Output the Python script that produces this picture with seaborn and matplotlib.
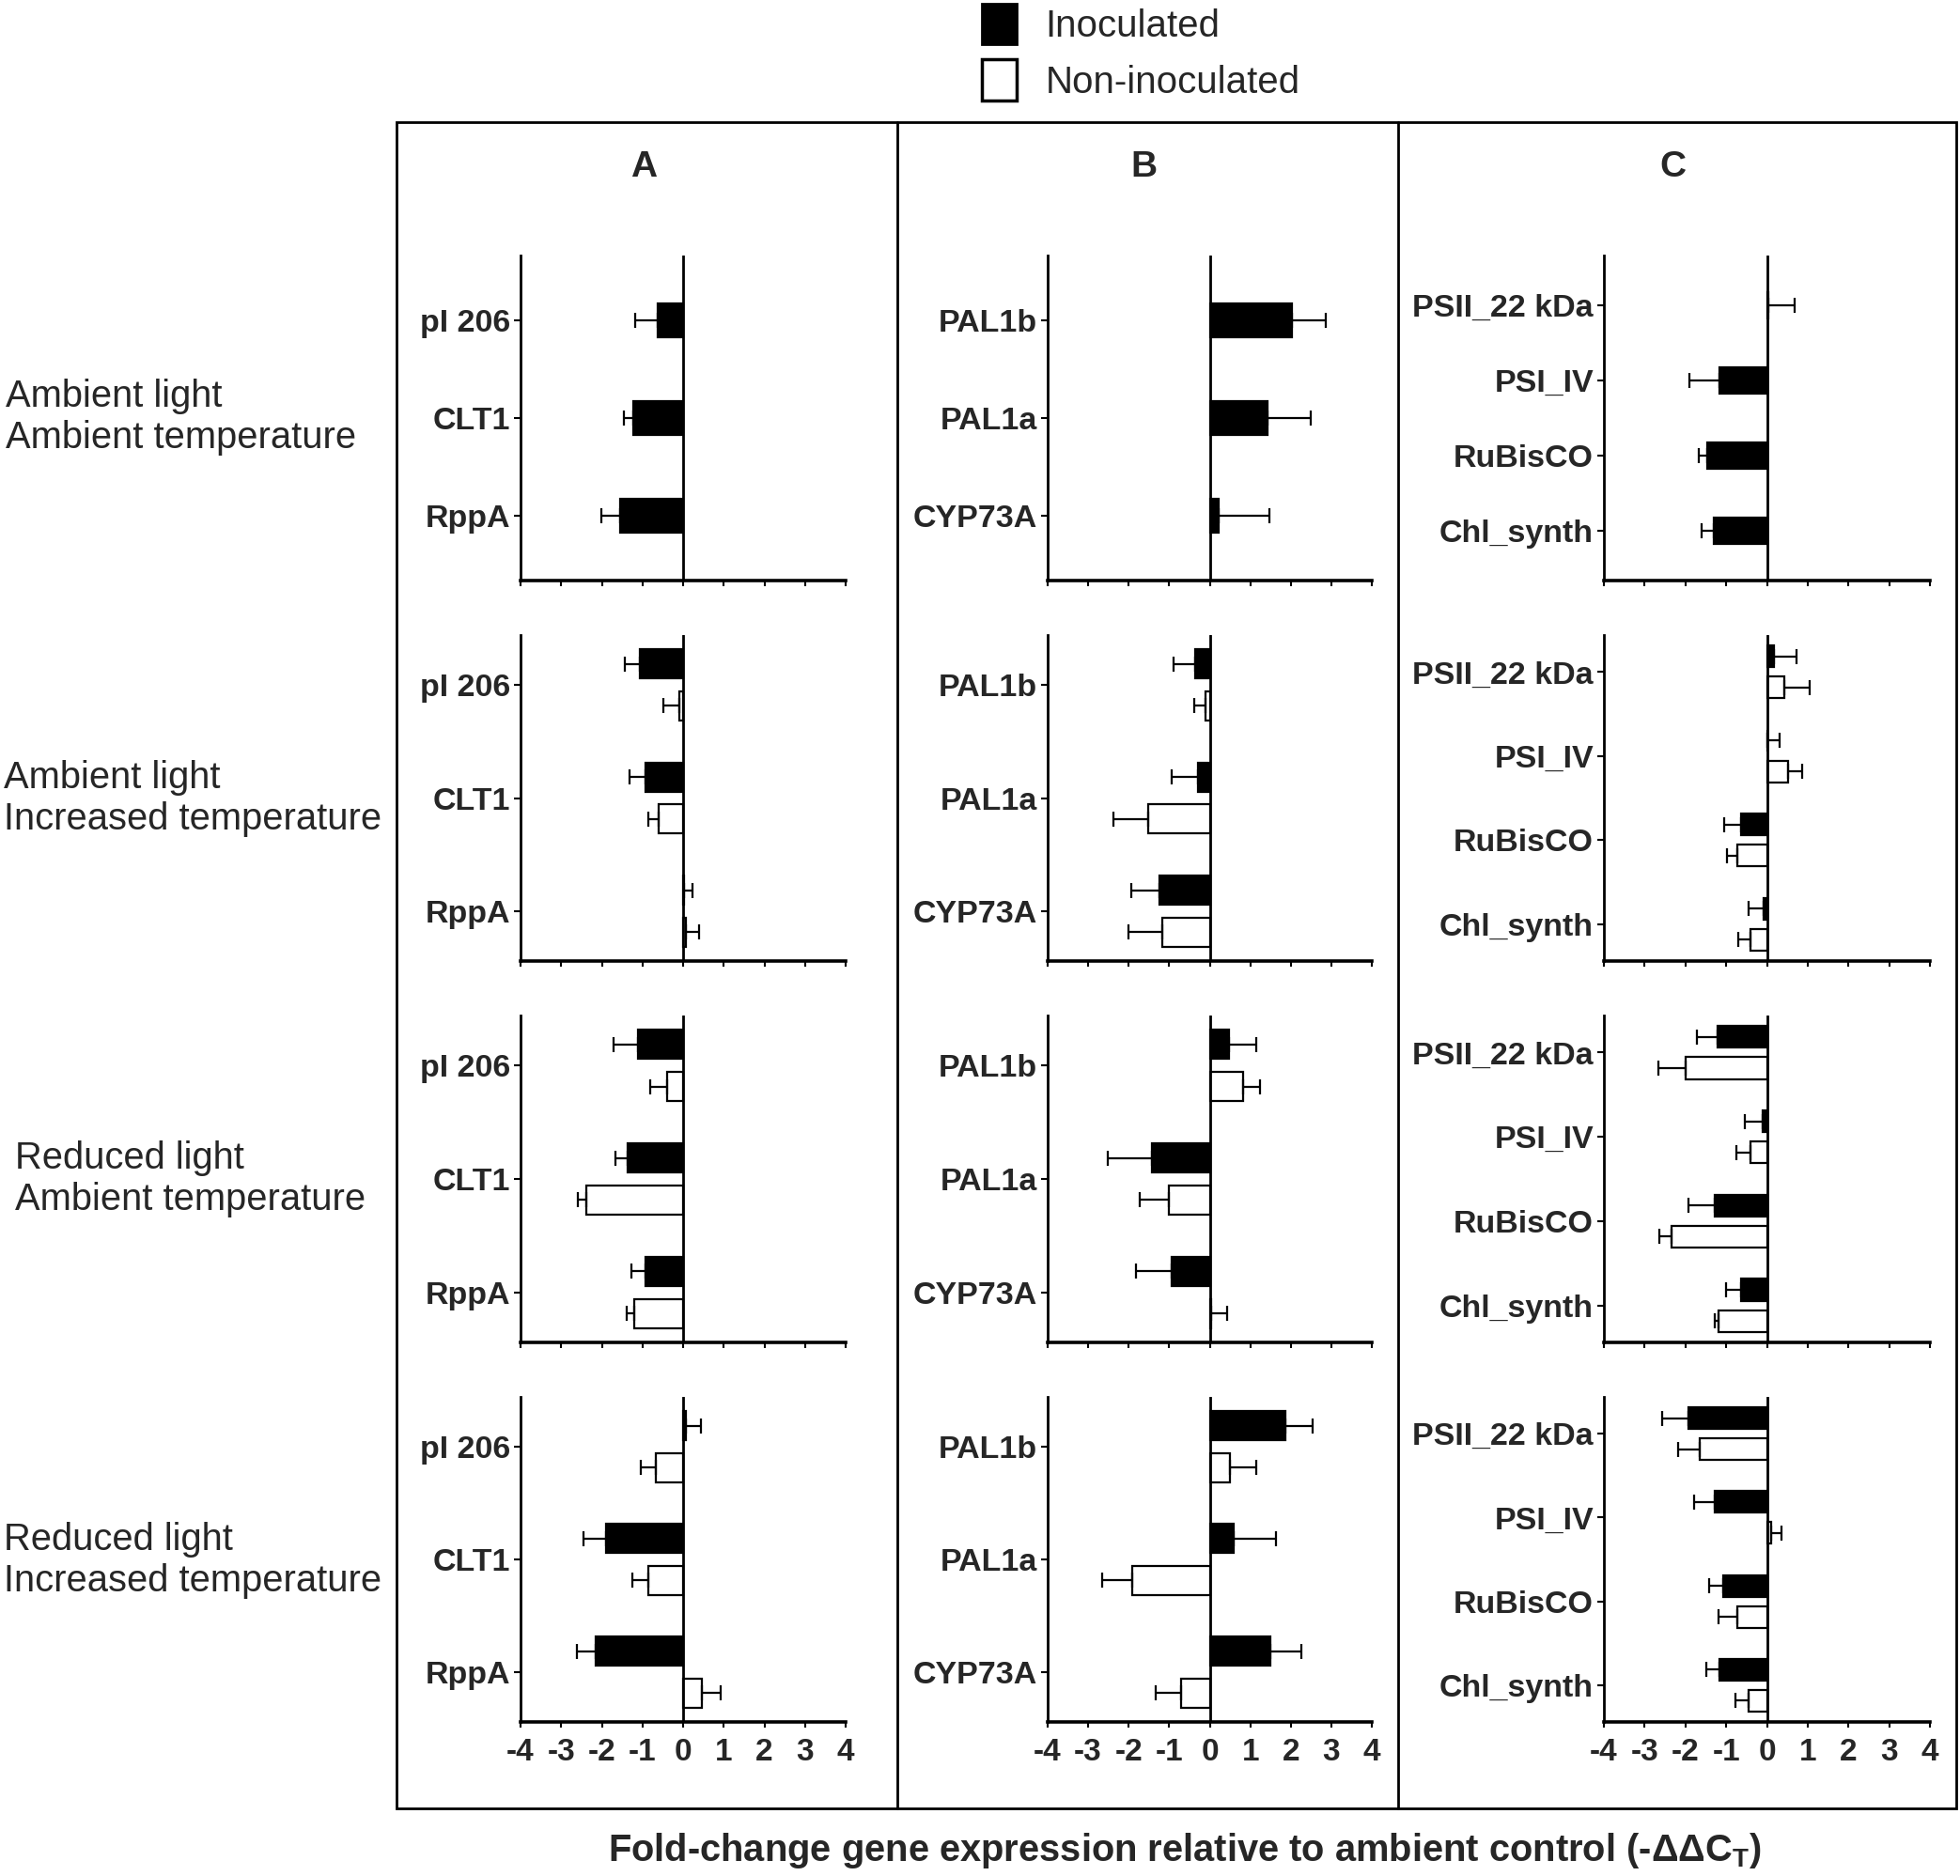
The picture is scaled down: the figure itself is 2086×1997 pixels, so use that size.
import numpy as np
import pandas as pd
import seaborn as sns
import matplotlib.pyplot as plt
from matplotlib.patches import Patch, Rectangle
from matplotlib.lines import Line2D

# genes per panel column
genes_a = ['pI 206', 'CLT1', 'RppA']
genes_b = ['PAL1b', 'PAL1a', 'CYP73A']
genes_c = ['PSII_22 kDa', 'PSI_IV', 'RuBisCO', 'Chl_synth']

conditions = ['Ambient light\nAmbient temperature',
              'Ambient light\nIncreased temperature',
              'Reduced light\nAmbient temperature',
              'Reduced light\nIncreased temperature']

treatments = ['Inoculated', 'Non-inoculated']

# -ddCT means, one list per condition row (None = not measured)
a_inoc = [[-0.63, -1.22, -1.54], [-1.07, -0.93, 0.02], [-1.10, -1.37, -0.93], [0.07, -1.90, -2.15]]
a_inoc_err = [[0.55, 0.24, 0.48], [0.37, 0.39, 0.22], [0.61, 0.29, 0.34], [0.37, 0.56, 0.46]]
a_non = [None, [-0.10, -0.61, 0.07], [-0.39, -2.39, -1.20], [-0.66, -0.85, 0.46]]
a_non_err = [None, [0.39, 0.24, 0.32], [0.41, 0.20, 0.19], [0.39, 0.39, 0.47]]

b_inoc = [[2.02, 1.43, 0.22], [-0.37, -0.29, -1.24], [0.48, -1.43, -0.95], [1.87, 0.59, 1.50]]
b_inoc_err = [[0.85, 1.07, 1.26], [0.53, 0.66, 0.69], [0.66, 1.09, 0.87], [0.66, 1.05, 0.76]]
b_non = [None, [-0.10, -1.51, -1.17], [0.82, -1.02, 0.03], [0.49, -1.91, -0.71]]
b_non_err = [None, [0.29, 0.86, 0.83], [0.42, 0.70, 0.41], [0.66, 0.74, 0.62]]

c_inoc = [[0.03, -1.16, -1.47, -1.30], [0.17, 0.02, -0.63, -0.07],
          [-1.20, -0.10, -1.28, -0.63], [-1.93, -1.28, -1.08, -1.16]]
c_inoc_err = [[0.65, 0.75, 0.19, 0.31], [0.55, 0.29, 0.41, 0.39],
              [0.51, 0.45, 0.65, 0.38], [0.65, 0.50, 0.34, 0.33]]
c_non = [None, [0.43, 0.53, -0.72, -0.41], [-2.00, -0.41, -2.34, -1.18], [-1.64, 0.10, -0.72, -0.46]]
c_non_err = [None, [0.63, 0.34, 0.27, 0.29], [0.67, 0.34, 0.29, 0.10], [0.53, 0.26, 0.46, 0.31]]

columns = [
    (genes_a, a_inoc, a_inoc_err, a_non, a_non_err),
    (genes_b, b_inoc, b_inoc_err, b_non, b_non_err),
    (genes_c, c_inoc, c_inoc_err, c_non, c_non_err),
]

sns.set_theme(style='white')
plt.rcParams['font.family'] = ['Liberation Sans', 'DejaVu Sans']
plt.rcParams['mathtext.fontset'] = 'custom'
plt.rcParams['mathtext.rm'] = 'Liberation Sans:bold'
plt.rcParams['mathtext.it'] = 'Liberation Sans:bold'

W, H = 2086, 1997
fig = plt.figure(figsize=(W / 100, H / 100), dpi=100)


def frac_rect(x0, y0, x1, y1):
    return [x0 / W, 1 - y1 / H, (x1 - x0) / W, (y1 - y0) / H]


col_x = [(554, 900), (1115, 1460), (1707, 2054)]
row_y = [(272, 618), (676, 1023), (1081, 1429), (1487, 1833)]

palette = {'Inoculated': 'black', 'Non-inoculated': 'white'}

for ci, (genes, inoc, inoc_err, non, non_err) in enumerate(columns):
    for ri in range(4):
        ax = fig.add_axes(frac_rect(col_x[ci][0], row_y[ri][0], col_x[ci][1], row_y[ri][1]))
        rows = []
        errs = {}
        for g, v, e in zip(genes, inoc[ri], inoc_err[ri]):
            rows.append((g, 'Inoculated', v))
            errs[(g, 'Inoculated')] = e
        if non[ri] is not None:
            for g, v, e in zip(genes, non[ri], non_err[ri]):
                rows.append((g, 'Non-inoculated', v))
                errs[(g, 'Non-inoculated')] = e
        df = pd.DataFrame(rows, columns=['gene', 'treatment', 'value'])
        levels = [t for t in treatments if t in set(df['treatment'])]
        if len(levels) == 1:
            width, gap, pad = 0.35, 0, 0.66
        else:
            width, gap, pad = 0.74, 0.3, 0.44
        sns.barplot(data=df, x='value', y='gene', hue='treatment', hue_order=levels,
                    order=genes, palette=palette, orient='h', errorbar=None,
                    width=width, gap=gap, edgecolor='black', linewidth=1.6,
                    legend=False, ax=ax)
        # one-sided error bars, placed from the drawn bars
        for level, cont in zip(levels, ax.containers):
            for bar in cont:
                yc = bar.get_y() + bar.get_height() / 2
                if abs(bar.get_x()) > 1e-9:
                    val = bar.get_x()
                else:
                    val = bar.get_width()
                g = genes[int(round(yc))]
                e = errs[(g, level)]
                xerr = [[0], [e]] if val >= 0 else [[e], [0]]
                ax.errorbar([val], [yc], xerr=xerr, fmt='none', ecolor='black',
                            elinewidth=1.6, capsize=5.5, capthick=1.6, zorder=1)
        ax.axvline(0, color='black', lw=2, zorder=3)
        ax.set_xlim(-4, 4)
        ax.set_ylim(len(genes) - 1 + pad, -pad)
        ax.set_xticks(range(-4, 5))
        ax.set_xlabel('')
        ax.set_ylabel('')
        for s in ['top', 'right']:
            ax.spines[s].set_visible(False)
        for s in ['left', 'bottom']:
            ax.spines[s].set_color('black')
        ax.spines['left'].set_linewidth(2)
        ax.spines['bottom'].set_linewidth(2.6)
        ax.tick_params(axis='x', length=4, width=1.5, pad=8, color='black',
                       labelsize=24, bottom=True)
        ax.tick_params(axis='y', length=5, width=1.5, pad=3, color='black',
                       labelsize=24.5, left=True)
        for lab in ax.get_yticklabels():
            lab.set_fontweight('bold')
        if ri < 3:
            ax.set_xticklabels([])
        else:
            ax.set_xticklabels([str(t) for t in range(-4, 5)], fontweight='bold')

# outer frame and column dividers
fig.add_artist(Rectangle((422 / W, 1 - 1925 / H), (2082 - 422) / W, (1925 - 130) / H,
                         transform=fig.transFigure, fill=False, lw=2, ec='black'))
for xd in [955, 1488]:
    fig.add_artist(Line2D([xd / W, xd / W], [1 - 130 / H, 1 - 1925 / H],
                          transform=fig.transFigure, lw=2, color='black'))

for lab, xh in zip(['A', 'B', 'C'], [685, 1217, 1780]):
    fig.text(xh / W, 1 - 178 / H, lab, ha='center', va='center', fontsize=28, fontweight='bold')

for cond, (xl, yl) in zip(conditions, [(6, 444), (4, 850), (16, 1255), (4, 1661)]):
    fig.text(xl / W, 1 - yl / H, cond, ha='left', va='center', fontsize=28.7, linespacing=1.2)

fig.text(1261 / W, 1 - 1970 / H,
         'Fold-change gene expression relative to ambient control (-ΔΔC$_\\mathrm{T}$)',
         ha='center', va='center', fontsize=28.7, fontweight='bold')

handles = [Patch(facecolor='black', edgecolor='black', lw=2),
           Patch(facecolor='white', edgecolor='black', lw=2.5)]
fig.legend(handles, treatments, loc='upper left', bbox_to_anchor=(1045 / W, 1 - 4 / H),
           frameon=False, fontsize=29, handlelength=0.92, handleheight=1.28,
           handletextpad=0.75, labelspacing=0.4, borderpad=0, borderaxespad=0)

fig.savefig('out.png', dpi=100, facecolor='white')
